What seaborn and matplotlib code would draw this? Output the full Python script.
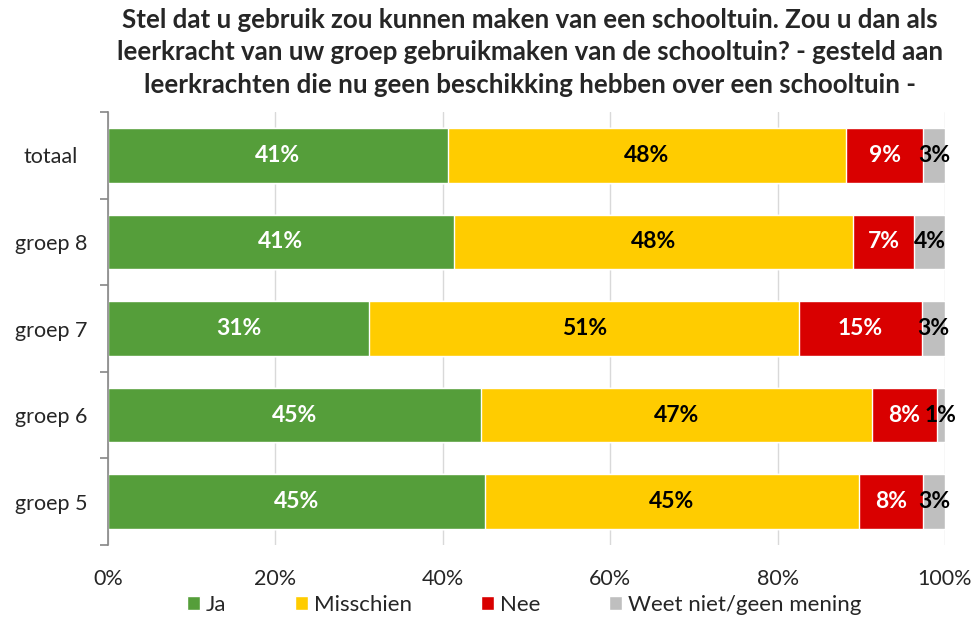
import pandas as pd
import numpy as np
import matplotlib.pyplot as plt
import seaborn as sns
from matplotlib.patches import Patch

sns.set_theme(style="white")
plt.rcParams['font.family'] = ['Lato', 'DejaVu Sans']

# Data (percentages)
groepen = ["totaal", "groep 8", "groep 7", "groep 6", "groep 5"]
ja = [40.6, 41.3, 31.2, 44.6, 45.0]
misschien = [47.6, 47.7, 51.4, 46.7, 44.7]
nee = [9.2, 7.3, 14.6, 7.7, 7.7]
weet_niet = [2.6, 3.7, 2.8, 1.0, 2.6]

categorieen = ["Ja", "Misschien", "Nee", "Weet niet/geen mening"]
kleuren = ["#559E3A", "#FFCC00", "#D90000", "#BFBFBF"]
tekstkleur = ["white", "black", "white", "black"]

dados = pd.DataFrame({"groep": groepen, "Ja": ja, "Misschien": misschien,
                      "Nee": nee, "Weet niet/geen mening": weet_niet})
cum = dados[categorieen].cumsum(axis=1)

fig = plt.figure(figsize=(9.73, 6.18), dpi=100)
ax = fig.add_axes([108 / 973, 1 - 545 / 618, (945 - 108) / 973, (545 - 112) / 618])

# stacked bars: draw cumulative totals from the back to the front
for i in range(len(categorieen) - 1, -1, -1):
    sns.barplot(x=cum[categorieen[i]], y=dados["groep"], color=kleuren[i],
                orient="h", width=0.63, ax=ax, saturation=1)

# percentage labels
for r in range(len(groepen)):
    links = 0
    for i, c in enumerate(categorieen):
        v = dados.loc[r, c]
        ax.text(links + v / 2, r, f"{v:.0f}%", ha="center", va="center",
                color=tekstkleur[i], fontsize=16.5, fontweight="bold")
        links += v

ax.set_xlim(0, 100)
ax.set_ylim(4.5, -0.5)
ax.set_xticks(np.arange(0, 101, 20))
ax.set_xticklabels([f"{t}%" for t in range(0, 101, 20)], fontsize=15.5)
ax.tick_params(axis="x", length=0, pad=17)
ax.set_yticks(range(len(groepen)))
ax.set_yticklabels(groepen, fontsize=15.5, ha="center")
ax.set_yticks(np.arange(-0.5, 5, 1), minor=True)
ax.tick_params(axis="y", which="major", length=0, pad=41)
ax.tick_params(axis="y", which="minor", length=6, color="#868686", width=1.2, left=True)
ax.xaxis.grid(True, color="#D9D9D9", linewidth=1)
ax.set_axisbelow(True)
ax.set_xlabel("")
ax.set_ylabel("")
for s in ["top", "right", "bottom"]:
    ax.spines[s].set_visible(False)
ax.spines["left"].set_color("#868686")
ax.spines["left"].set_linewidth(1.2)

fig.suptitle("Stel dat u gebruik zou kunnen maken van een schooltuin. Zou u dan als\n"
             "leerkracht van uw groep gebruikmaken van de schooltuin? - gesteld aan\n"
             "leerkrachten die nu geen beschikking hebben over een schooltuin -",
             x=530 / 973, y=0.987, fontsize=18.6, fontweight="bold", linespacing=1.42)

handles = [Patch(facecolor=k, label=c) for k, c in zip(kleuren, categorieen)]
fig.legend(handles=handles, loc="center", bbox_to_anchor=(524 / 973, 1 - 605 / 618),
           ncol=4, frameon=False, fontsize=16, handlelength=0.6, handleheight=0.6,
           handletextpad=0.25, columnspacing=3.1)

fig.savefig("out.png", dpi=100)
